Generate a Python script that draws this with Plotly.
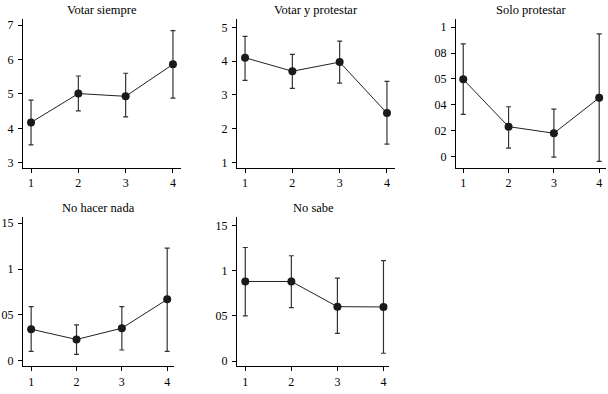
import plotly.graph_objects as go

W, H = 608, 394

categories = [1, 2, 3, 4]

titles = ["Votar siempre", "Votar y protestar", "Solo protestar", "No hacer nada", "No sabe"]

votar_siempre = [4.17, 5.01, 4.93, 5.86]
votar_siempre_lo = [3.52, 4.51, 4.33, 4.88]
votar_siempre_hi = [4.82, 5.52, 5.60, 6.84]

votar_protestar = [4.10, 3.70, 3.97, 2.46]
votar_protestar_lo = [3.43, 3.19, 3.35, 1.54]
votar_protestar_hi = [4.73, 4.20, 4.59, 3.40]

solo_protestar = [0.0597, 0.0231, 0.0180, 0.0454]
solo_protestar_lo = [0.0326, 0.0064, -0.0005, -0.0038]
solo_protestar_hi = [0.0872, 0.0385, 0.0367, 0.0949]

no_hacer_nada = [0.0343, 0.0231, 0.0354, 0.0669]
no_hacer_nada_lo = [0.0101, 0.0069, 0.0116, 0.0101]
no_hacer_nada_hi = [0.0589, 0.0390, 0.0589, 0.1229]

no_sabe = [0.0880, 0.0880, 0.0602, 0.0599]
no_sabe_lo = [0.0500, 0.0591, 0.0307, 0.0088]
no_sabe_hi = [0.1255, 0.1164, 0.0916, 0.1110]

y_tickvals = [
    [3, 4, 5, 6, 7],
    [1, 2, 3, 4, 5],
    [0, 0.02, 0.04, 0.06, 0.08, 0.1],
    [0, 0.05, 0.1, 0.15],
    [0, 0.05, 0.1, 0.15],
]
y_ticktext = [
    ["3", "4", "5", "6", "7"],
    ["1", "2", "3", "4", "5"],
    ["0", "02", "04", "05", "08", "1"],
    ["0", "05", "1", "15"],
    ["0", "05", "1", "15"],
]
x_ticktext = ["1", "2", "3", "4"]

series = [
    (votar_siempre, votar_siempre_lo, votar_siempre_hi),
    (votar_protestar, votar_protestar_lo, votar_protestar_hi),
    (solo_protestar, solo_protestar_lo, solo_protestar_hi),
    (no_hacer_nada, no_hacer_nada_lo, no_hacer_nada_hi),
    (no_sabe, no_sabe_lo, no_sabe_hi),
]

# pixel layout (left, right, top, bottom)
boxes = [
    (23, 181, 18, 168),
    (237, 395, 18, 168),
    (456, 606, 18, 168),
    (23, 174, 218, 368),
    (237, 389, 218, 368),
]
y_ranges = [
    [2.856, 7.18],
    [0.844, 5.25],
    [-0.0087, 0.1065],
    [-0.0061, 0.1565],
    [-0.0055, 0.1588],
]
x_ranges = [
    [0.83, 4.17],
    [0.83, 4.17],
    [0.84, 4.15],
    [0.82, 4.15],
    [0.82, 4.12],
]

FONT = "Liberation Serif, DejaVu Serif, serif"
fig = go.Figure()
layout = dict(
    width=W, height=H,
    margin=dict(l=0, r=0, t=0, b=0),
    paper_bgcolor="white", plot_bgcolor="white",
    showlegend=False,
    font=dict(family=FONT, size=12, color="black"),
)
annotations = []
for i, (vals, lo, hi) in enumerate(series):
    n = i + 1
    xa = "x" if n == 1 else f"x{n}"
    ya = "y" if n == 1 else f"y{n}"
    fig.add_trace(go.Scatter(
        x=categories, y=vals, xaxis=xa, yaxis=ya,
        mode="lines+markers",
        line=dict(color="#222222", width=1),
        marker=dict(color="#1a1a1a", size=8),
        error_y=dict(type="data", symmetric=False,
                     array=[h - v for h, v in zip(hi, vals)],
                     arrayminus=[v - l for v, l in zip(vals, lo)],
                     color="#333333", thickness=1.2, width=2.5),
        cliponaxis=False,
    ))
    l, r, t, b = boxes[i]
    xd = [l / W, r / W]
    yd = [1 - b / H, 1 - t / H]
    common = dict(showgrid=False, zeroline=False, showline=True, linecolor="black",
                  linewidth=1, ticks="outside", ticklen=4, tickcolor="black",
                  tickfont=dict(family=FONT, size=12, color="black"))
    layout["xaxis" if n == 1 else f"xaxis{n}"] = dict(
        domain=xd, anchor=ya, range=x_ranges[i],
        tickvals=categories, ticktext=x_ticktext, **common)
    layout["yaxis" if n == 1 else f"yaxis{n}"] = dict(
        domain=yd, anchor=xa, range=y_ranges[i],
        tickvals=y_tickvals[i], ticktext=y_ticktext[i], ticklabelstandoff=2, **common)
    annotations.append(dict(
        text=titles[i], x=(l + r) / 2 / W, y=1 - (t - 9) / H,
        xref="paper", yref="paper", showarrow=False,
        xanchor="center", yanchor="middle",
        font=dict(family=FONT, size=12.5, color="black"),
    ))
layout["annotations"] = annotations
fig.update_layout(**layout)
fig.write_html("out.html", config={"displayModeBar": False},
               post_script="document.body.style.margin='0px';document.body.style.overflow='hidden';")
